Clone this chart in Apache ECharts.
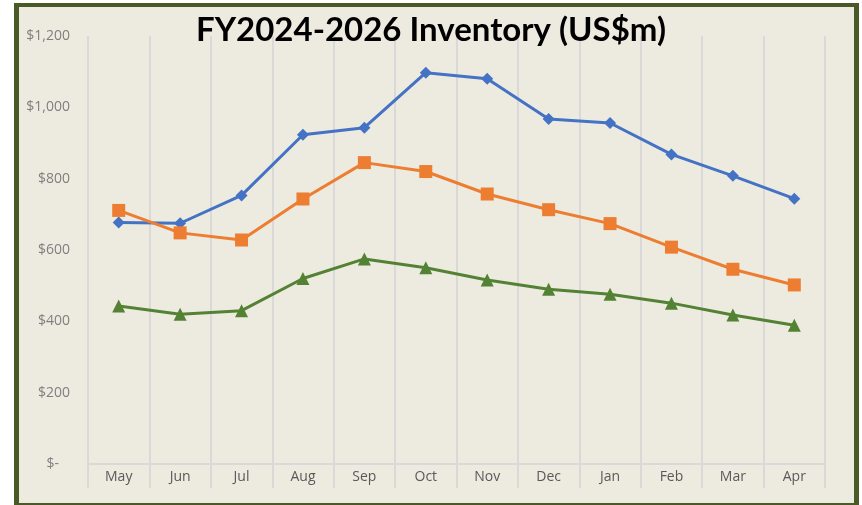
<!DOCTYPE html>
<html>
<head>
<meta charset="utf-8">
<script src="https://cdn.jsdelivr.net/npm/echarts@6/dist/echarts.min.js"></script>
<style>
  html, body { margin: 0; padding: 0; background: #ffffff; }
  #frame {
    position: absolute; left: 14px; top: 3px; width: 845px; height: 502px;
    box-sizing: border-box; background: #edebe0;
    border-style: solid; border-color: #4a5a26; border-width: 4px 5px 2px 5px;
  }
  #chart { position: absolute; left: 0; top: 0; width: 862px; height: 505px; }
</style>
</head>
<body>
<div id="frame"></div>
<div id="chart"></div>
<script>
// months of the fiscal year
const months = ['May', 'Jun', 'Jul', 'Aug', 'Sep', 'Oct', 'Nov', 'Dec', 'Jan', 'Feb', 'Mar', 'Apr']
// inventory, US$m
const blueSeries = [677, 675, 753, 923, 943, 1097, 1080, 967, 956, 868, 808, 744]
const orangeSeries = [711, 648, 628, 743, 845, 820, 757, 713, 674, 608, 546, 502]
const greenSeries = [443, 420, 430, 520, 575, 550, 516, 490, 476, 451, 418, 389]
const yTicks = [0, 200, 400, 600, 800, 1000, 1200]

const fmtMoney = (v) => {
    if (v === 0) return '$-   '
    return '$' + v.toLocaleString('en-US')
}

const chart = echarts.init(document.getElementById('chart'), null, {renderer: 'canvas'})

const lineSeries = (name, data, color, symbol, size) => ({
    name,
    type: 'line',
    data,
    symbol,
    symbolSize: size,
    showSymbol: true,
    lineStyle: { color, width: 3 },
    itemStyle: { color },
    animation: false
})

chart.setOption({
    backgroundColor: 'transparent',
    title: {
        text: 'FY2024-2026 Inventory (US$m)',
        left: 'center',
        top: 9,
        textStyle: {
            fontFamily: 'Lato',
            fontWeight: 'bold',
            fontSize: 33,
            color: '#000'
        }
    },
    grid: {
        top: 36,
        left: 88,
        right: 37,
        bottom: 41
    },
    xAxis: {
        type: 'category',
        data: months,
        boundaryGap: true,
        axisLine: { lineStyle: { color: '#d9d9d9', width: 2 } },
        axisTick: { show: true, length: 24, lineStyle: { color: '#d9d9d9', width: 2 } },
        axisLabel: { color: '#595959', fontSize: 14, fontFamily: 'Open Sans', margin: 6 },
        splitLine: { show: true, lineStyle: { color: '#d9d9d9', width: 2 } }
    },
    yAxis: {
        type: 'value',
        min: yTicks[0],
        max: yTicks[yTicks.length - 1],
        interval: 200,
        axisLine: { show: false },
        axisTick: { show: false },
        splitLine: { show: false },
        axisLabel: {
            color: '#7f7f7f',
            fontSize: 14,
            fontFamily: 'Open Sans',
            margin: 18,
            formatter: fmtMoney
        }
    },
    series: [
        lineSeries('Series 1', blueSeries, '#4472c4', 'diamond', 12),
        lineSeries('Series 2', orangeSeries, '#ed7d31', 'rect', 13),
        lineSeries('Series 3', greenSeries, '#548235', 'triangle', 13)
    ]
})
</script>
</body>
</html>
